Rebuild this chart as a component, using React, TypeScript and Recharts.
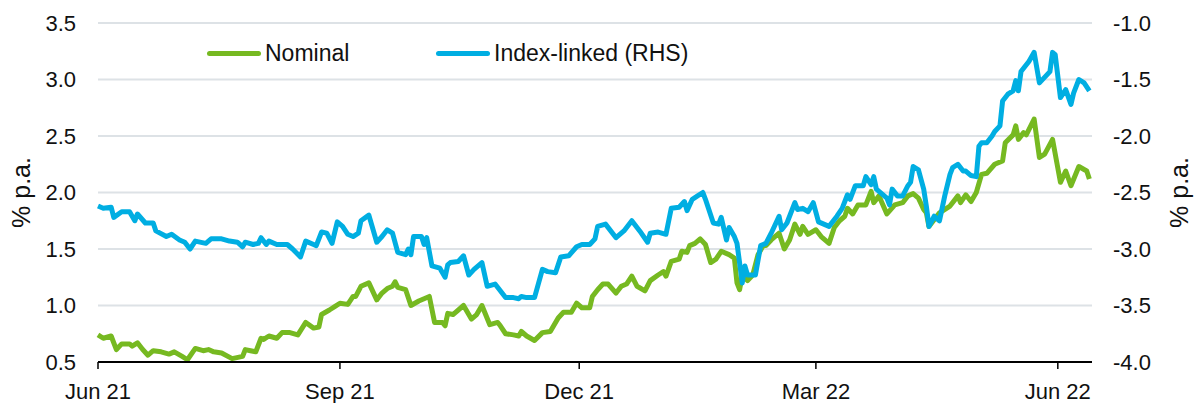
import React from 'react';
import { LineChart, Line, XAxis, YAxis, CartesianGrid } from 'recharts';

// Nominal vs index-linked yields, Jun 21 – Jun 22
// x values: days since 1 Jun 2021

const FONT = '"Liberation Sans", Arial, sans-serif';
const GREEN = '#76b921';
const BLUE = '#00aee2';

const tickDays = [0, 92, 183, 273, 365];
const tickLabels = ['Jun 21', 'Sep 21', 'Dec 21', 'Mar 22', 'Jun 22'];
const leftTicks = [0.5, 1.0, 1.5, 2.0, 2.5, 3.0, 3.5];
const rightTicks = [-4.0, -3.5, -3.0, -2.5, -2.0, -1.5, -1.0];

const nominalDays = [
  0, 2, 5, 7, 9, 12, 13, 15, 17, 19,
  21, 24, 27, 29, 32, 34, 37, 40, 42, 44,
  47, 51, 55, 56, 58, 60, 62, 63, 65, 68,
  70, 73, 76, 79, 82, 84, 85, 88, 90, 92,
  95, 97, 98, 100, 103, 106, 108, 110, 112, 113,
  114, 117, 119, 122, 126, 128, 131, 132, 133, 135,
  139, 142, 144, 146, 149, 152, 153, 155, 158, 160,
  161, 163, 166, 169, 172, 175, 177, 180, 182, 184,
  187, 188, 190, 192, 194, 197, 199, 201, 203, 205,
  208, 210, 213, 215, 216, 218, 221, 222, 224, 225,
  227, 229, 231, 233, 235, 237, 240, 242, 243, 244,
  245, 247, 249, 251, 253, 254, 256, 259, 261, 263,
  265, 267, 268, 270, 273, 275, 278, 280, 282, 284,
  285, 287, 289, 292, 294, 295, 297, 300, 303, 306,
  308, 310, 312, 314, 315, 316, 320, 324, 327, 328,
  330, 332, 334, 336, 338, 341, 344, 345, 348, 349,
  350, 352, 353, 356, 358, 360, 363, 366, 368, 370,
  373, 376, 377,
];

const nominalYield = [
  0.74, 0.71, 0.73, 0.61, 0.66, 0.66, 0.64, 0.67, 0.61, 0.56,
  0.60, 0.59, 0.57, 0.59, 0.55, 0.52, 0.62, 0.60, 0.61, 0.59,
  0.58, 0.53, 0.55, 0.61, 0.60, 0.59, 0.71, 0.70, 0.73, 0.71,
  0.76, 0.76, 0.74, 0.85, 0.80, 0.81, 0.92, 0.96, 0.99, 1.02,
  1.01, 1.08, 1.08, 1.17, 1.20, 1.05, 1.11, 1.15, 1.17, 1.21,
  1.16, 1.14, 1.00, 1.04, 1.08, 0.85, 0.85, 0.82, 0.93, 0.92,
  1.00, 0.88, 0.92, 1.00, 0.83, 0.85, 0.82, 0.75, 0.74, 0.73,
  0.77, 0.73, 0.69, 0.76, 0.77, 0.89, 0.94, 0.94, 1.02, 0.98,
  0.98, 1.08, 1.14, 1.19, 1.19, 1.11, 1.17, 1.19, 1.26, 1.17,
  1.13, 1.22, 1.27, 1.30, 1.26, 1.39, 1.41, 1.48, 1.47, 1.53,
  1.55, 1.59, 1.54, 1.38, 1.41, 1.48, 1.45, 1.42, 1.20, 1.14,
  1.27, 1.22, 1.27, 1.45, 1.53, 1.53, 1.58, 1.64, 1.50, 1.58,
  1.72, 1.63, 1.70, 1.63, 1.67, 1.61, 1.55, 1.69, 1.75, 1.79,
  1.86, 1.81, 1.89, 1.89, 2.01, 1.91, 1.97, 1.81, 1.89, 1.91,
  1.97, 1.99, 1.95, 1.85, 1.82, 1.70, 1.82, 1.88, 1.97, 1.91,
  1.98, 1.92, 2.00, 2.16, 2.17, 2.25, 2.28, 2.44, 2.51, 2.59,
  2.47, 2.53, 2.51, 2.65, 2.31, 2.34, 2.47, 2.09, 2.19, 2.06,
  2.23, 2.19, 2.12,
];

const linkedDays = [
  0, 2, 5, 6, 9, 12, 14, 15, 18, 21,
  22, 26, 28, 31, 33, 35, 37, 41, 43, 47,
  50, 53, 55, 56, 59, 61, 62, 64, 65, 68,
  72, 74, 77, 79, 82, 83, 85, 87, 89, 91,
  93, 95, 97, 99, 100, 103, 106, 108, 110, 112,
  114, 117, 118, 119, 120, 123, 124, 125, 127, 130,
  132, 133, 134, 137, 139, 141, 143, 146, 148, 151,
  153, 155, 158, 160, 161, 163, 166, 169, 171, 174,
  176, 179, 182, 184, 187, 189, 190, 193, 197, 200,
  203, 206, 209, 210, 213, 216, 218, 221, 223, 224,
  226, 228, 230, 231, 234, 236, 237, 239, 240, 242,
  243, 245, 246, 247, 250, 252, 254, 256, 259, 260,
  262, 265, 266, 268, 270, 272, 274, 278, 281, 283,
  285, 286, 288, 291, 292, 294, 295, 296, 300, 301,
  302, 304, 306, 308, 309, 310, 312, 314, 315, 316,
  318, 320, 322, 324, 325, 327, 329, 330, 332, 334,
  335, 336, 338, 340, 341, 343, 344, 346, 348, 349,
  350, 351, 354, 356, 358, 362, 363, 364, 366, 368,
  370, 371, 373, 375, 377,
];

const linkedYield = [
  -2.62, -2.64, -2.63, -2.72, -2.67, -2.67, -2.75, -2.69, -2.77, -2.77,
  -2.84, -2.89, -2.87, -2.92, -2.94, -3.00, -2.93, -2.95, -2.91, -2.91,
  -2.93, -2.94, -2.98, -2.94, -2.96, -2.95, -2.90, -2.96, -2.93, -2.96,
  -2.96, -3.00, -3.07, -2.93, -2.96, -2.97, -2.85, -2.86, -2.95, -2.76,
  -2.80, -2.87, -2.89, -2.86, -2.75, -2.70, -2.94, -2.89, -2.83, -2.86,
  -3.03, -3.05, -3.00, -3.05, -2.89, -2.89, -2.96, -2.90, -3.15, -3.17,
  -3.25, -3.14, -3.12, -3.11, -3.06, -3.23, -3.18, -3.12, -3.33, -3.31,
  -3.37, -3.43, -3.43, -3.44, -3.42, -3.43, -3.43, -3.18, -3.20, -3.21,
  -3.07, -3.06, -2.98, -2.96, -2.96, -2.91, -2.80, -2.78, -2.90, -2.84,
  -2.75, -2.84, -2.94, -2.86, -2.85, -2.87, -2.64, -2.63, -2.58, -2.66,
  -2.56, -2.53, -2.50, -2.56, -2.77, -2.78, -2.72, -2.92, -2.81, -2.89,
  -2.95, -3.30, -3.15, -3.23, -3.23, -2.97, -2.95, -2.86, -2.71, -2.83,
  -2.77, -2.59, -2.65, -2.64, -2.67, -2.59, -2.76, -2.80, -2.71, -2.64,
  -2.52, -2.56, -2.44, -2.44, -2.36, -2.43, -2.36, -2.47, -2.55, -2.61,
  -2.47, -2.53, -2.53, -2.44, -2.41, -2.27, -2.30, -2.47, -2.62, -2.80,
  -2.71, -2.75, -2.53, -2.34, -2.28, -2.25, -2.31, -2.31, -2.35, -2.36,
  -2.09, -2.06, -2.06, -2.00, -1.96, -1.91, -1.69, -1.63, -1.60, -1.51,
  -1.60, -1.43, -1.34, -1.26, -1.53, -1.43, -1.26, -1.28, -1.66, -1.59,
  -1.72, -1.62, -1.50, -1.53, -1.60,
];

const nominalData = nominalDays.map((day, i) => ({ day, value: nominalYield[i] }));
const linkedData = linkedDays.map((day, i) => ({ day, value: linkedYield[i] }));

const tickStyle = { fill: '#111', fontSize: 22, fontFamily: FONT };

function AxisTitle({ viewBox, side }: any) {
  const cx = side === 'left' ? viewBox.x + 21 : viewBox.x + 87;
  const cy = viewBox.y + viewBox.height / 2;
  return (
    <text
      x={cx}
      y={cy}
      transform={`rotate(-90 ${cx} ${cy})`}
      textAnchor="middle"
      dominantBaseline="central"
      fill="#111"
      fontSize={25}
      fontFamily={FONT}
    >
      % p.a.
    </text>
  );
}

function LegendItem({ color, label, left }: { color: string; label: string; left: number }) {
  return (
    <div style={{ position: 'absolute', left, top: 0, display: 'flex', alignItems: 'center', height: 26 }}>
      <div style={{ width: 54, height: 5, borderRadius: 3, background: color, marginRight: 4 }} />
      <span style={{ fontSize: 23, fontFamily: FONT, color: '#111', whiteSpace: 'nowrap' }}>{label}</span>
    </div>
  );
}

export default function App() {
  return (
    <div style={{ position: 'absolute', left: 0, top: 0, width: 1197, height: 403, background: '#fff' }}>
      <LineChart width={1197} height={403} margin={{ top: 23, right: 0, bottom: 0, left: 0 }}>
        <CartesianGrid yAxisId="left" vertical={false} stroke="#dde2e6" strokeWidth={2} />
        <XAxis
          dataKey="day"
          type="number"
          domain={[0, 378]}
          ticks={tickDays}
          interval={0}
          tickFormatter={(d: number) => tickLabels[tickDays.indexOf(d)]}
          height={41}
          tick={tickStyle}
          tickSize={7}
          tickMargin={14}
          axisLine={{ stroke: '#000', strokeWidth: 2 }}
          tickLine={{ stroke: '#000', strokeWidth: 1.5 }}
          allowDuplicatedCategory={false}
        />
        <YAxis
          yAxisId="left"
          orientation="left"
          width={98}
          domain={[0.5, 3.5]}
          ticks={leftTicks}
          interval={0}
          tickFormatter={(v: number) => v.toFixed(1)}
          tick={tickStyle}
          tickSize={0}
          tickMargin={22}
          axisLine={false}
          tickLine={false}
          label={(props: any) => <AxisTitle {...props} side="left" />}
        />
        <YAxis
          yAxisId="right"
          orientation="right"
          width={105}
          domain={[-4, -1]}
          ticks={rightTicks}
          interval={0}
          tickFormatter={(v: number) => v.toFixed(1)}
          tick={tickStyle}
          tickSize={0}
          tickMargin={21}
          axisLine={false}
          tickLine={false}
          label={(props: any) => <AxisTitle {...props} side="right" />}
        />
        <Line
          yAxisId="left"
          data={nominalData}
          dataKey="value"
          name="Nominal"
          type="linear"
          stroke={GREEN}
          strokeWidth={5}
          strokeLinejoin="round"
          dot={false}
          activeDot={false}
          isAnimationActive={false}
        />
        <Line
          yAxisId="right"
          data={linkedData}
          dataKey="value"
          name="Index-linked (RHS)"
          type="linear"
          stroke={BLUE}
          strokeWidth={5}
          strokeLinejoin="round"
          dot={false}
          activeDot={false}
          isAnimationActive={false}
        />
      </LineChart>
      <div style={{ position: 'absolute', left: 207, top: 40 }}>
        <LegendItem color={GREEN} label="Nominal" left={0} />
        <LegendItem color={BLUE} label="Index-linked (RHS)" left={229} />
      </div>
    </div>
  );
}
